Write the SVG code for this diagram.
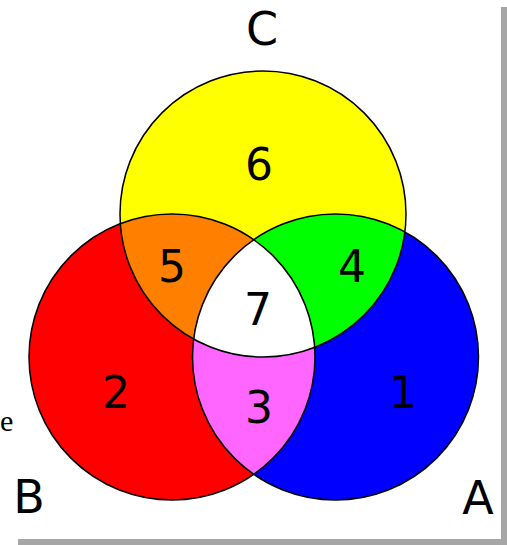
<svg xmlns="http://www.w3.org/2000/svg" width="507" height="545" viewBox="0 0 507 545">
  <style>
    .lbl { font-family: "DejaVu Sans", Verdana, sans-serif; font-size: 46px; fill: #000; text-anchor: middle; }
    .num { font-family: "DejaVu Sans", Verdana, sans-serif; font-size: 44px; fill: #000; text-anchor: middle; }
    .edge { fill: none; stroke: #000; stroke-width: 1.5; }
    .shadow { fill: #a6a6a6; }
  </style>
  <defs>
    <circle id="cA" cx="335.5" cy="357" r="143"/>
    <circle id="cB" cx="172" cy="357" r="143"/>
    <circle id="cC" cx="263" cy="214" r="143"/>
    <clipPath id="clipA"><use href="#cA"/></clipPath>
    <clipPath id="clipB"><use href="#cB"/></clipPath>
    <clipPath id="clipC"><use href="#cC"/></clipPath>
  </defs>
  <rect width="507" height="545" fill="#fff"/>
  <rect class="shadow" x="501" y="7" width="6" height="538"/>
  <rect class="shadow" x="18" y="539" width="489" height="6"/>
  <text x="0" y="431" font-family="Liberation Serif, serif" font-size="30">e</text>

  <g id="setA"><use href="#cA" fill="#0000ff"/></g>
  <g id="setB"><use href="#cB" fill="#ff0000"/></g>
  <g id="setC"><use href="#cC" fill="#ffff00"/></g>
  <g id="regionAB"><use href="#cB" fill="#ff66ff" clip-path="url(#clipA)"/></g>
  <g id="regionBC"><use href="#cC" fill="#ff8000" clip-path="url(#clipB)"/></g>
  <g id="regionAC"><use href="#cC" fill="#00ff00" clip-path="url(#clipA)"/></g>
  <g id="regionABC" clip-path="url(#clipB)"><use href="#cC" fill="#ffffff" clip-path="url(#clipA)"/></g>

  <g id="connectors">
    <use href="#cA" class="edge"/>
    <use href="#cB" class="edge"/>
    <use href="#cC" class="edge"/>
  </g>

  <g id="labels">
    <text class="lbl" x="262" y="45">C</text>
    <text class="lbl" x="29" y="513">B</text>
    <text class="lbl" x="478" y="514">A</text>
    <text class="num" x="259" y="180">6</text>
    <text class="num" x="172" y="282">5</text>
    <text class="num" x="352" y="282">4</text>
    <text class="num" x="258" y="325">7</text>
    <text class="num" x="116" y="408">2</text>
    <text class="num" x="259" y="423">3</text>
    <text class="num" x="403" y="408">1</text>
  </g>
</svg>
